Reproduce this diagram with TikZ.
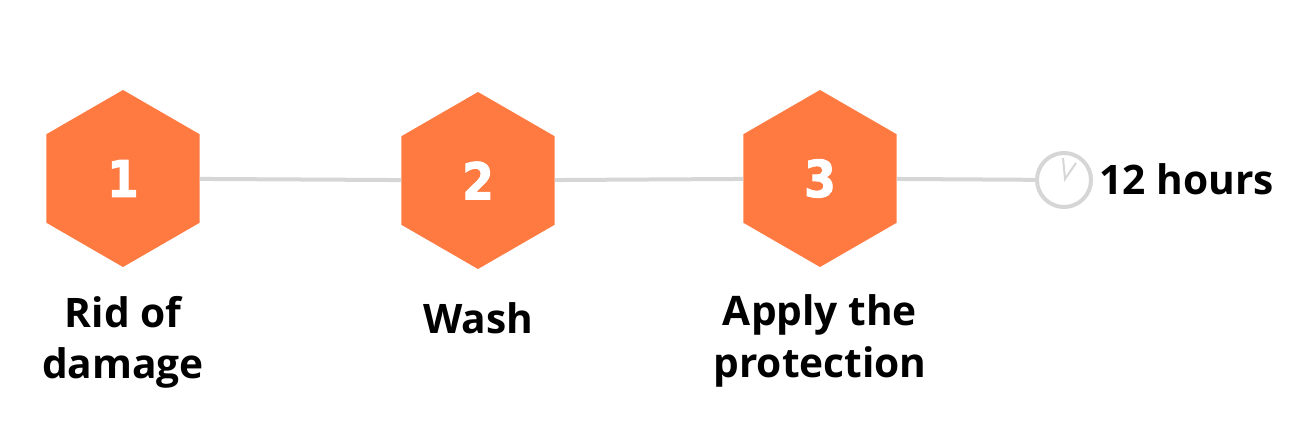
\documentclass[tikz,border=0pt]{standalone}
\usepackage{fontspec}
\setmainfont{Open Sans}
\newfontfamily\digitfont[BoldFeatures={FakeBold=2}]{DejaVu Sans Condensed}
\usetikzlibrary{shapes.geometric}
\definecolor{hexorange}{HTML}{FF7A40}
\definecolor{linegray}{HTML}{D6D6D6}
\tikzset{
  hexstep/.style={regular polygon, regular polygon sides=6, regular polygon rotate=30, fill=hexorange, inner sep=0pt, minimum size=132.75pt, text=white, font=\fontsize{38}{38}\digitfont\bfseries},
  steplabel/.style={align=center, font=\fontsize{30.5}{38.5}\selectfont\bfseries},
  linkline/.style={draw=linegray, line width=3pt}
}
\begin{document}
\begin{tikzpicture}[x=0.75pt, y=-0.75pt]
    \useasboundingbox (0,0) rectangle (1300,432);

    \node[hexstep] (rid) at (123,178.5) {1};
    \node[hexstep] (wash) at (478,180.5) {2};
    \node[hexstep] (apply) at (820,178.5) {3};

    \node[circle, draw=linegray, line width=3pt, inner sep=0pt, minimum size=40.5pt] (clock) at (1064,180) {};
    \coordinate (handbase) at (1065,179);
    \coordinate (handlong) at (1063,158);
    \coordinate (handshort) at (1076,163);

    \node[steplabel, anchor=west] (hours) at (1095,179) {12 hours};
    \node[steplabel] (ridlabel) at (123,342) {Rid of\\damage};
    \node[steplabel] (washlabel) at (478,318) {Wash};
    \node[steplabel] (applylabel) at (820,341) {Apply the\\protection};

    \draw[linkline] (rid) -- (wash);
    \draw[linkline] (wash) -- (apply);
    \draw[linkline] (apply) -- (clock);

    \draw[draw=linegray, line width=1.5pt] (handlong) -- (handbase) -- (handshort);
\end{tikzpicture}
\end{document}
